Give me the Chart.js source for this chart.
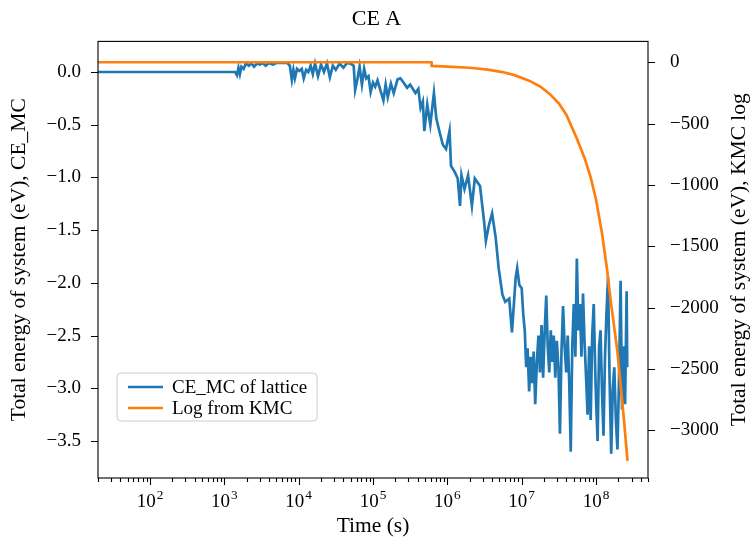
<!DOCTYPE html>
<html>
<head>
<meta charset="utf-8">
<script src="https://cdn.jsdelivr.net/npm/chart.js@4"></script>
<style>
  html, body { margin: 0; padding: 0; background: #fff; }
</style>
</head>
<body>
<canvas id="energyChart" width="753" height="544"></canvas>
<script>
// CE_MC energy of the lattice, sampled over time
const ceTimes = [
  20, 1.4e3, 1.48e3, 1.55e3, 1.62e3, 1.7e3, 1.82e3, 1.95e3, 2.14e3, 2.29e3, 2.51e3,
  2.75e3, 3.0e3, 3.3e3, 3.6e3, 4.0e3, 4.5e3, 5.0e3, 5.6e3, 6.3e3, 7.1e3,
  7.6e3, 8.1e3, 8.5e3, 8.9e3, 9.5e3, 1.02e4, 1.1e4, 1.17e4, 1.26e4, 1.35e4,
  1.45e4, 1.55e4, 1.66e4, 1.82e4, 2.0e4, 2.19e4, 2.4e4, 2.63e4, 2.88e4, 3.16e4,
  3.55e4, 4.0e4, 4.47e4, 5.0e4, 5.5e4, 5.75e4, 6.2e4, 6.6e4, 7.1e4, 7.6e4,
  8.1e4, 8.7e4, 9.3e4, 1.0e5, 1.07e5, 1.15e5, 1.38e5, 1.48e5, 1.58e5, 1.74e5,
  1.9e5, 2.14e5, 2.34e5, 2.57e5, 2.88e5, 3.16e5, 3.72e5, 4.07e5, 4.37e5, 4.68e5,
  4.9e5, 5.37e5, 5.9e5, 6.6e5, 7.1e5, 7.8e5, 8.7e5, 9.6e5, 1.07e6, 1.12e6,
  1.26e6, 1.38e6, 1.48e6, 1.55e6, 1.7e6, 1.9e6, 2.14e6, 2.34e6, 2.75e6, 3.1e6,
  3.3e6, 3.6e6, 4.0e6, 4.47e6, 4.9e6, 5.5e6, 6.0e6, 6.8e6, 7.4e6, 8.3e6,
  8.7e6, 9.3e6,
  1.00e7, 1.05e7, 1.10e7, 1.15e7, 1.20e7, 1.26e7, 1.32e7, 1.38e7, 1.45e7, 1.52e7,
  1.60e7, 1.68e7, 1.76e7, 1.85e7, 1.94e7, 2.04e7, 2.14e7, 2.24e7, 2.35e7, 2.46e7,
  2.58e7, 2.70e7, 2.83e7, 2.97e7, 3.12e7, 3.27e7, 3.43e7, 3.60e7, 3.78e7, 3.97e7,
  4.16e7, 4.36e7, 4.57e7, 4.79e7, 5.02e7, 5.27e7, 5.52e7, 5.79e7, 6.07e7, 6.37e7,
  6.68e7, 7.00e7, 7.35e7, 7.70e7, 8.08e7, 8.47e7, 8.88e7, 9.31e7, 9.77e7,
  1.00e8, 1.05e8, 1.10e8, 1.15e8, 1.20e8, 1.26e8, 1.32e8, 1.38e8, 1.45e8, 1.52e8,
  1.60e8, 1.68e8, 1.76e8, 1.85e8, 1.94e8, 2.04e8, 2.14e8, 2.24e8, 2.35e8, 2.46e8,
  2.58e8, 2.63e8
];
const ceEnergy = [
  0, 0, -0.03, 0.04, -0.02, 0.05, 0.03, 0.08, 0.06, 0.085, 0.05,
  0.08, 0.07, 0.085, 0.06, 0.085, 0.07, 0.085, 0.085, 0.085, 0.085,
  0.06, -0.075, 0.02, -0.06, 0.03, 0.01, 0.03, -0.06, 0.02, 0.0,
  0.06, -0.02, 0.08, -0.04, 0.07, 0.0, 0.08, -0.05, 0.06, 0.02,
  0.08, 0.04, 0.085, 0.08, 0.06, -0.17, -0.06, 0.05, -0.12, 0.03,
  -0.06, -0.04, -0.19, -0.1, -0.14, -0.08, -0.27, -0.12, -0.24, -0.11,
  -0.2, -0.07, -0.06, -0.1, -0.15, -0.12, -0.2, -0.16, -0.34, -0.28,
  -0.56, -0.31, -0.5, -0.2, -0.44, -0.56, -0.69, -0.73, -0.56, -0.89,
  -0.95, -1.01, -1.27, -0.98, -1.11, -0.98, -1.27, -1.01, -1.08, -1.4,
  -1.6, -1.46, -1.34, -1.57, -1.86, -2.11, -2.18, -2.15, -2.47, -1.95,
  -1.86, -2.02,
  -2.05, -2.3, -2.45, -2.8, -2.62, -3.03, -2.7, -2.95, -2.65, -3.15,
  -2.75, -2.5, -2.85, -2.4, -2.9, -2.45, -2.12, -2.6, -2.85, -2.45,
  -2.75, -2.5, -2.9, -2.55, -2.8, -3.43, -2.65, -2.22, -2.6, -2.85,
  -2.5, -2.95, -3.6, -2.6, -2.2, -2.7, -1.77, -2.45, -2.2, -2.7,
  -2.1, -2.55, -2.9, -3.25, -2.6, -3.3, -2.5, -2.2, -2.85,
  -3.1, -3.5, -2.6, -2.45, -3.0, -3.45, -2.7, -2.3, -1.95, -2.9,
  -3.62, -3.0, -2.8, -3.3, -3.58, -2.9, -1.98, -3.2, -2.6, -3.15,
  -2.08, -2.8
];

// energy from the KMC log
const kmcTimes = [
  20, 6.1e5, 6.15e5, 1.0e6, 2.0e6, 3.5e6, 5.5e6, 8e6, 1.26e7, 1.8e7, 2.4e7,
  3.2e7, 4.0e7, 5.5e7, 7e7, 8.4e7, 1e8, 1.2e8, 1.4e8, 1.58e8, 1.94e8, 2.37e8, 2.65e8
];
const kmcEnergy = [
  0, 0, -30, -35, -45, -60, -80, -105, -150, -200, -260,
  -340, -430, -620, -780, -930, -1120, -1390, -1680, -1950, -2360, -2910, -3250
];

const seriesNames = ['CE_MC of lattice', 'Log from KMC'];
const xTicks = [1e2, 1e3, 1e4, 1e5, 1e6, 1e7, 1e8];
const leftTicks = [0, -0.5, -1.0, -1.5, -2.0, -2.5, -3.0, -3.5];
const rightTicks = [0, -500, -1000, -1500, -2000, -2500, -3000];

const chartTitle = 'CE A';
const xTitle = 'Time (s)';
const leftTitle = 'Total energy of system (eV), CE_MC';
const rightTitle = 'Total energy of system (eV), KMC log';

const BLUE = '#1f77b4';
const ORANGE = '#ff7f0e';
const FONT = 'Liberation Serif';
const TICK_SIZE = 19;
const LABEL_SIZE = 21.5;

const minus = v => (v < 0 ? '−' : '') + Math.abs(v);

// frame, outward tick marks, power-of-ten labels, right-hand title and the legend
const decorations = {
  id: 'decorations',
  afterDraw(chart) {
    const { ctx, chartArea: a, scales } = chart;
    ctx.save();
    ctx.strokeStyle = '#000';
    ctx.lineWidth = 1.1;
    ctx.strokeRect(a.left, a.top, a.right - a.left, a.bottom - a.top);

    ctx.beginPath();
    const x = scales.x;
    for (let p = 1; p <= 8; p++) {
      for (let m = 1; m <= 9; m++) {
        const v = m * Math.pow(10, p);
        if (v < x.min || v > x.max) continue;
        const px = Math.round(x.getPixelForValue(v)) + 0.5;
        ctx.moveTo(px, a.bottom);
        ctx.lineTo(px, a.bottom + (m === 1 ? 7 : 4));
      }
    }
    scales.y.ticks.forEach(t => {
      const py = Math.round(scales.y.getPixelForValue(t.value)) + 0.5;
      ctx.moveTo(a.left - 7, py);
      ctx.lineTo(a.left, py);
    });
    scales.y1.ticks.forEach(t => {
      const py = Math.round(scales.y1.getPixelForValue(t.value)) + 0.5;
      ctx.moveTo(a.right, py);
      ctx.lineTo(a.right + 7, py);
    });
    ctx.stroke();

    // 10^n labels with a raised exponent
    ctx.fillStyle = '#000';
    ctx.textBaseline = 'alphabetic';
    ctx.textAlign = 'left';
    xTicks.forEach(v => {
      const exp = String(Math.round(Math.log10(v)));
      const px = x.getPixelForValue(v);
      ctx.font = `${TICK_SIZE}px "${FONT}"`;
      const wBase = ctx.measureText('10').width;
      ctx.font = `${TICK_SIZE * 0.7}px "${FONT}"`;
      const wExp = ctx.measureText(exp).width;
      const left = px - (wBase + wExp + 1) / 2;
      ctx.font = `${TICK_SIZE}px "${FONT}"`;
      ctx.fillText('10', left, a.bottom + 29);
      ctx.font = `${TICK_SIZE * 0.7}px "${FONT}"`;
      ctx.fillText(exp, left + wBase + 1, a.bottom + 21);
    });

    // right axis title reads bottom-to-top like the left one
    ctx.font = `${LABEL_SIZE}px "${FONT}"`;
    ctx.textAlign = 'center';
    ctx.textBaseline = 'middle';
    ctx.save();
    ctx.translate(739, (a.top + a.bottom) / 2);
    ctx.rotate(-Math.PI / 2);
    ctx.fillText(rightTitle, 0, 0);
    ctx.restore();

    // legend box in the lower left corner
    ctx.font = `${TICK_SIZE}px "${FONT}"`;
    const textW = Math.max(...chart.data.datasets.map(ds => ctx.measureText(ds.label).width));
    const bx = a.left + 19, by = a.bottom - 105, bw = 55 + textW + 10, bh = 48, r = 4;
    ctx.beginPath();
    ctx.moveTo(bx + r, by);
    ctx.arcTo(bx + bw, by, bx + bw, by + bh, r);
    ctx.arcTo(bx + bw, by + bh, bx, by + bh, r);
    ctx.arcTo(bx, by + bh, bx, by, r);
    ctx.arcTo(bx, by, bx + bw, by, r);
    ctx.closePath();
    ctx.fillStyle = 'rgba(255,255,255,0.8)';
    ctx.fill();
    ctx.strokeStyle = '#cccccc';
    ctx.lineWidth = 1;
    ctx.stroke();

    ctx.textAlign = 'left';
    chart.data.datasets.forEach((ds, i) => {
      const ly = by + 14 + i * 21;
      ctx.strokeStyle = ds.borderColor;
      ctx.lineWidth = 2.6;
      ctx.beginPath();
      ctx.moveTo(bx + 11, ly);
      ctx.lineTo(bx + 46, ly);
      ctx.stroke();
      ctx.fillStyle = '#000';
      ctx.fillText(ds.label, bx + 55, ly + 1);
    });
    ctx.restore();
  }
};

const tickFont = { family: FONT, size: TICK_SIZE };
const titleFont = { family: FONT, size: LABEL_SIZE };

new Chart(document.getElementById('energyChart'), {
  type: 'line',
  data: {
    datasets: [
      {
        label: seriesNames[0],
        data: ceTimes.map((t, i) => ({ x: t, y: ceEnergy[i] })),
        borderColor: BLUE,
        borderWidth: 2.7,
        pointRadius: 0,
        yAxisID: 'y',
        order: 2
      },
      {
        label: seriesNames[1],
        data: kmcTimes.map((t, i) => ({ x: t, y: kmcEnergy[i] })),
        borderColor: ORANGE,
        borderWidth: 2.7,
        pointRadius: 0,
        yAxisID: 'y1',
        order: 1
      }
    ]
  },
  options: {
    responsive: false,
    animation: false,
    layout: { padding: 0 },
    plugins: {
      legend: { display: false },
      tooltip: { enabled: false },
      title: {
        display: true,
        text: chartTitle,
        color: '#000',
        font: { family: FONT, size: 22, weight: 'normal' },
        padding: { top: 6, bottom: 9 }
      }
    },
    scales: {
      x: {
        type: 'logarithmic',
        position: 'bottom',
        min: 20,
        max: 5e8,
        afterBuildTicks: s => { s.ticks = xTicks.map(v => ({ value: v, major: true })); },
        afterFit: s => { s.height = 66; },
        grid: { display: false },
        border: { display: false },
        ticks: { display: false },
        title: { display: true, text: xTitle, color: '#000', font: titleFont, padding: { bottom: 5 } }
      },
      y: {
        type: 'linear',
        position: 'left',
        min: -3.85,
        max: 0.29,
        afterBuildTicks: s => { s.ticks = leftTicks.map(v => ({ value: v })); },
        afterFit: s => { s.width = 98; },
        grid: { display: false },
        border: { display: false },
        ticks: {
          color: '#000',
          font: tickFont,
          padding: 9,
          callback: v => (v < 0 ? '−' : '') + Math.abs(v).toFixed(1)
        },
        title: { display: true, text: leftTitle, color: '#000', font: titleFont, padding: { top: 6 } }
      },
      y1: {
        type: 'linear',
        position: 'right',
        min: -3390,
        max: 170,
        afterBuildTicks: s => { s.ticks = rightTicks.map(v => ({ value: v })); },
        afterFit: s => { s.width = 105; },
        grid: { display: false },
        border: { display: false },
        ticks: {
          color: '#000',
          font: tickFont,
          padding: 14,
          callback: v => minus(v)
        }
      }
    }
  },
  plugins: [decorations]
});
</script>
</body>
</html>
